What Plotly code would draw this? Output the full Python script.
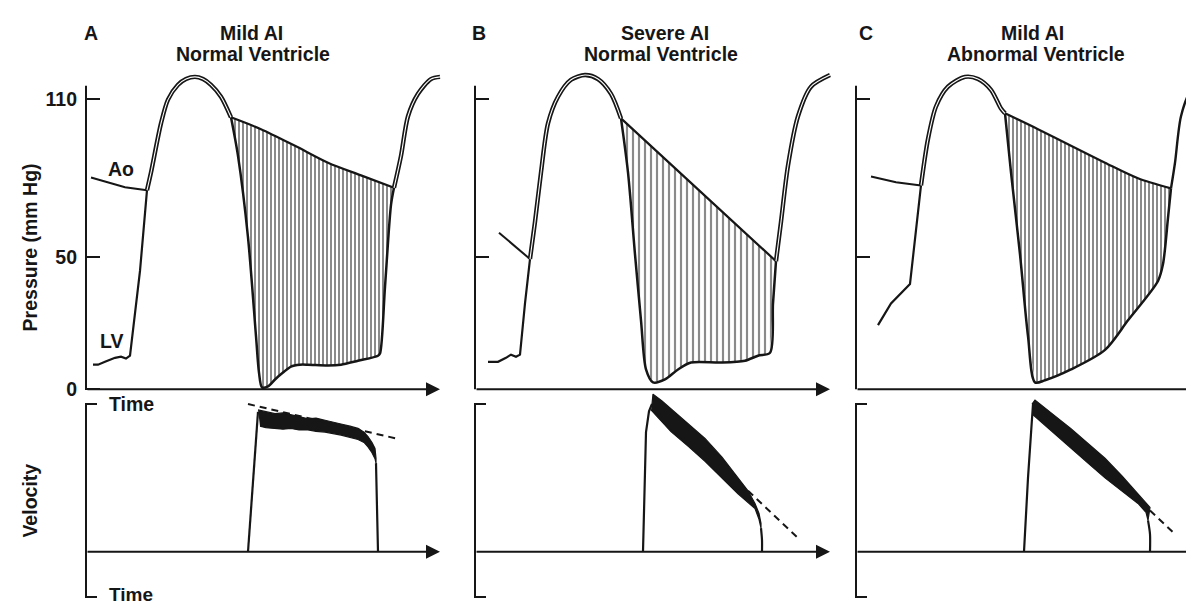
import plotly.graph_objects as go

W, H = 1194, 605
INK = "#161616"
FONT = "Liberation Sans, Arial, sans-serif"

# ---------------- data (time units, pressure mm Hg, velocity rel.) ----------------
# Panel A: Mild AI, normal ventricle
A_AO_PRE = [(5, 80.2), (22, 78.4), (39, 76.5), (61, 75.4)]
A_LV_PRE = [(7, 9.3), (12, 9.3), (19, 10.4), (29, 11.9), (35, 12.3), (40, 11.6), (44, 12.7), (54, 44.8), (61, 75.4)]
A_SYS = [(61, 75.4), (65, 82.1), (75, 100.7), (82, 109.7), (92, 115.3), (100, 117.5), (109, 118.3),
         (117, 117.5), (125, 115.3), (135, 110.8), (145, 103.0)]
A_LV_DIA = [(145, 103.0), (152, 88.4), (162, 57.5), (170, 20.1), (173, 6.3), (176, 0.7), (182, 1.1), (189, 3.7),
            (197, 6.3), (205, 8.6), (214, 9.3), (222, 9.3), (242, 9.0), (255, 9.3), (272, 10.8), (292, 12.7),
            (294, 13.5), (299, 38.8), (305, 69.8), (308, 76.3)]
A_AO_DIA = [(145, 103.0), (175, 98.5), (209, 92.2), (242, 85.8), (275, 81.0), (308, 76.3)]
A_POST = [(308, 76.3), (315, 88.4), (322, 103.4), (332, 111.9), (345, 117.5), (354, 118.3)]
V_A_RISE = [(162, 0.0), (172, 0.947)]
V_A_UP = [(172, 0.96), (180, 0.95), (189, 0.935), (197, 0.94), (205, 0.925), (213, 0.915), (222, 0.90),
          (230, 0.905), (239, 0.89), (247, 0.88), (255, 0.865), (264, 0.85), (272, 0.835), (278, 0.81),
          (282, 0.78), (286, 0.74), (289, 0.70), (290, 0.633)]
V_A_LO = [(174, 0.85), (180, 0.84), (189, 0.835), (197, 0.83), (205, 0.835), (213, 0.825), (222, 0.825),
          (230, 0.815), (239, 0.81), (247, 0.80), (255, 0.79), (264, 0.775), (272, 0.76), (278, 0.74),
          (282, 0.71), (286, 0.67), (289, 0.63), (290, 0.60)]
V_A_FALL = [(290, 0.60), (291, 0.30), (292, 0.0)]
V_A_DASH = [(162, 1.0), (310, 0.767)]

# Panel B: Severe AI, normal ventricle
B_AO_PRE = [(24, 59.3), (55, 49.3)]
B_LV_PRE = [(13, 10.4), (23, 10.4), (31, 11.9), (36, 13.1), (41, 12.3), (45, 13.1), (50, 32.5), (55, 49.3)]
B_SYS = [(55, 49.3), (60, 63.4), (66, 82.1), (73, 100.7), (83, 110.8), (96, 117.2), (110, 119.0),
         (123, 117.5), (136, 111.9), (146, 102.6)]
B_LV_DIA = [(146, 102.6), (153, 82.1), (160, 51.1), (166, 26.1), (171, 7.5), (178, 2.6), (190, 3.7),
            (203, 7.5), (216, 10.1), (246, 10.1), (270, 10.8), (283, 12.7), (295, 13.8), (298, 32.5), (301, 48.5)]
B_AO_DIA = [(146, 102.6), (223, 75.7), (301, 48.5)]
B_POST = [(301, 48.5), (306, 63.4), (313, 84.7), (323, 103.4), (336, 114.6), (355, 119.0)]
V_B_RISE = [(168, 0.0), (170, 0.48), (171, 0.81), (174, 0.95), (177, 1.0)]
V_B_UP = [(177, 1.0), (178, 1.067), (187, 1.02), (196, 0.967), (213, 0.87), (230, 0.767), (247, 0.64),
          (263, 0.50), (273, 0.413), (280, 0.327), (284, 0.26), (286, 0.193)]
V_B_LO = [(176, 0.96), (196, 0.813), (213, 0.715), (230, 0.613), (247, 0.50), (263, 0.393), (280, 0.293),
          (284, 0.22), (286, 0.16)]
V_B_FALL = [(286, 0.16), (287, 0.08), (287, 0.0)]
V_B_DASH = [(273, 0.413), (325, 0.08)]

# Panel C: Mild AI, abnormal ventricle
C_AO_PRE = [(15, 80.6), (40, 78.4), (65, 77.2)]
C_LV_PRE = [(22, 24.3), (35, 32.5), (54, 39.9), (59, 57.5), (65, 77.2)]
C_SYS = [(65, 77.2), (72, 94.8), (80, 107.1), (92, 114.6), (109, 118.3), (122, 117.5), (135, 113.4),
         (145, 106.3), (149, 104.5)]
C_LV_DIA = [(149, 104.5), (155, 82.1), (164, 51.1), (172, 20.1), (179, 2.6), (189, 3.4), (215, 7.5),
            (249, 14.9), (272, 26.1), (302, 41.0), (307, 47.4), (312, 64.9), (315, 76.1)]
C_AO_DIA = [(149, 104.5), (182, 98.5), (215, 92.2), (249, 85.8), (282, 79.9), (315, 76.1)]
C_POST = [(315, 76.1), (319, 85.8), (325, 103.4), (335, 113.4), (345, 117.2)]
V_C_RISE = [(168, 0.0), (172, 0.5), (177, 1.0)]
V_C_UP = [(176, 1.0), (179, 1.027), (197, 0.93), (215, 0.833), (232, 0.733), (249, 0.633), (266, 0.513),
          (282, 0.393), (290, 0.33), (294, 0.30)]
V_C_LO = [(177, 0.927), (197, 0.81), (215, 0.70), (232, 0.60), (249, 0.50), (266, 0.413), (282, 0.327),
          (290, 0.267), (292, 0.213)]
V_C_FALL = [(292, 0.213), (294, 0.12), (294, 0.0)]
V_C_DASH = [(294, 0.28), (320, 0.113)]

PRESSURE_TICKS = [0, 50, 110]
PRESSURE_TICK_TEXT = ["0", "50", "110"]
VEL_TICKS = [-0.307, 1.0]
PANEL_LETTERS = ["A", "B", "C"]
TITLES = [("Mild AI", "Normal Ventricle"), ("Severe AI", "Normal Ventricle"), ("Mild AI", "Abnormal Ventricle")]

# ---------------- layout geometry (pixels) ----------------
P_RANGE = [-0.75, 122.76]     # top panels
V_RANGE = [-0.3533, 1.08]     # bottom panels
top_dom = [1 - 389 / H, 1 - 58 / H]
bot_dom = [0, 1 - 390 / H]

panels = [
    dict(axis_px=78, tmax=362, arrow=354, hatch=4, solid=0.5, post_double=True,
         ao_pre=A_AO_PRE, lv_pre=A_LV_PRE, sys=A_SYS, lv_dia=A_LV_DIA, ao_dia=A_AO_DIA, post=A_POST,
         rise=V_A_RISE, up=V_A_UP, lo=V_A_LO, fall=V_A_FALL, dash=V_A_DASH),
    dict(axis_px=467, tmax=362, arrow=355, hatch=6, solid=0.36, post_double=True,
         ao_pre=B_AO_PRE, lv_pre=B_LV_PRE, sys=B_SYS, lv_dia=B_LV_DIA, ao_dia=B_AO_DIA, post=B_POST,
         rise=V_B_RISE, up=V_B_UP, lo=V_B_LO, fall=V_B_FALL, dash=V_B_DASH),
    dict(axis_px=848, tmax=346, arrow=346, hatch=4, solid=0.5, post_double=False,
         ao_pre=C_AO_PRE, lv_pre=C_LV_PRE, sys=C_SYS, lv_dia=C_LV_DIA, ao_dia=C_AO_DIA, post=C_POST,
         rise=V_C_RISE, up=V_C_UP, lo=V_C_LO, fall=V_C_FALL, dash=V_C_DASH),
]

fig = go.Figure()


def xy(pts):
    return [p[0] for p in pts], [p[1] for p in pts]


def add_line(pts, xa, ya, width=2.2, color=INK, spline=False, dash=None):
    x, y = xy(pts)
    ln = dict(color=color, width=width, dash=dash)
    if spline:
        ln.update(shape="spline", smoothing=0.8)
    fig.add_trace(go.Scatter(x=x, y=y, mode="lines", line=ln, xaxis=xa, yaxis=ya,
                             showlegend=False, hoverinfo="skip"))


annotations = []
shapes = []
layout_axes = {}

for i, p in enumerate(panels):
    kt, kb = 2 * i + 1, 2 * i + 2
    xt, yt = ("x" if kt == 1 else f"x{kt}"), ("y" if kt == 1 else f"y{kt}")
    xb, yb = f"x{kb}", f"y{kb}"
    x0px = p["axis_px"] - 1
    x1px = x0px + (p["tmax"] + 1)
    xdom = [x0px / W, min(x1px / W, 1.0)]

    for k, ydom, yr in ((kt, top_dom, P_RANGE), (kb, bot_dom, V_RANGE)):
        xname = "xaxis" if k == 1 else f"xaxis{k}"
        yname = "yaxis" if k == 1 else f"yaxis{k}"
        layout_axes[xname] = dict(domain=xdom, range=[-1, p["tmax"]], visible=False,
                                  anchor="y" if k == 1 else f"y{k}")
        ya = dict(domain=ydom, range=yr, anchor="x" if k == 1 else f"x{k}",
                  showgrid=False, zeroline=False, showline=False,
                  ticks="inside", tickwidth=2, tickcolor=INK)
        if k == kt:
            ya.update(tickvals=PRESSURE_TICKS if i == 0 else PRESSURE_TICKS[1:],
                      ticktext=PRESSURE_TICK_TEXT if i == 0 else PRESSURE_TICK_TEXT[1:],
                      showticklabels=(i == 0), ticklen=15, ticklabelstandoff=7,
                      tickfont=dict(family=FONT, size=19.5, color=INK, weight="bold"))
        else:
            ya.update(tickvals=VEL_TICKS, showticklabels=False, ticklen=12)
        layout_axes[yname] = ya

    # --- pressure panel ---
    hatch_poly = p["ao_dia"] + p["lv_dia"][::-1]
    hx, hy = xy(hatch_poly)
    fig.add_trace(go.Scatter(x=hx, y=hy, mode="lines", fill="toself", fillcolor="white",
                             fillpattern=dict(shape="|", size=p["hatch"], solidity=p["solid"],
                                              fgcolor="#161616", bgcolor="white"),
                             line=dict(width=0, color="rgba(0,0,0,0)"), xaxis=xt, yaxis=yt,
                             showlegend=False, hoverinfo="skip"))
    add_line(p["ao_pre"], xt, yt, width=2.0)
    add_line(p["lv_pre"], xt, yt, width=2.2)
    add_line(p["lv_dia"], xt, yt, width=2.5, spline=True)
    add_line(p["ao_dia"], xt, yt, width=2.2, spline=True)
    add_line(p["sys"], xt, yt, width=4.4, spline=True)
    add_line(p["sys"], xt, yt, width=1.1, color="white", spline=True)
    if p["post_double"]:
        add_line(p["post"], xt, yt, width=4.4, spline=True)
        add_line(p["post"], xt, yt, width=1.1, color="white", spline=True)
    else:
        add_line(p["post"], xt, yt, width=2.4, spline=True)

    # axes (pressure)
    shapes.append(dict(type="line", xref=xt, yref=yt, x0=0, x1=0, y0=0, y1=115,
                       line=dict(color=INK, width=2)))
    annotations.append(dict(xref=xt, yref=yt, axref=xt, ayref=yt, x=p["arrow"], y=0, ax=0, ay=0,
                            text="", showarrow=True, arrowhead=2, arrowsize=1.4, arrowwidth=2,
                            arrowcolor=INK, standoff=0))

    # --- velocity panel ---
    band = p["up"] + p["lo"][::-1]
    bx, by = xy(band)
    fig.add_trace(go.Scatter(x=bx, y=by, mode="lines", fill="toself", fillcolor=INK,
                             line=dict(width=1.2, color=INK), xaxis=xb, yaxis=yb,
                             showlegend=False, hoverinfo="skip"))
    add_line(p["rise"], xb, yb, width=2.2)
    add_line(p["fall"], xb, yb, width=2.2, spline=True)
    add_line(p["dash"], xb, yb, width=2.0, dash="7px,5px")

    shapes.append(dict(type="line", xref=xb, yref=yb, x0=0, x1=0, y0=VEL_TICKS[0], y1=VEL_TICKS[1],
                       line=dict(color=INK, width=2)))
    annotations.append(dict(xref=xb, yref=yb, axref=xb, ayref=yb, x=p["arrow"], y=0, ax=0, ay=0,
                            text="", showarrow=True, arrowhead=2, arrowsize=1.4, arrowwidth=2,
                            arrowcolor=INK, standoff=0))


def label(text, px, py, size=19.5, angle=0):
    annotations.append(dict(text=text, x=px / W, y=1 - py / H, xref="paper", yref="paper",
                            showarrow=False, xanchor="center", yanchor="middle", textangle=angle,
                            font=dict(family=FONT, size=size, color=INK, weight="bold")))


for letter, (lx, ly) in zip(PANEL_LETTERS, [(83, 25), (471, 25), (858, 25)]):
    label(letter, lx, ly)
title_pos = [((243, 25), (245, 47)), ((657, 25), (653, 47)), ((1024, 25), (1028, 47))]
for (l1, l2), (p1, p2) in zip(TITLES, title_pos):
    label(l1, *p1)
    label(l2, *p2)
label("Ao", 113, 163)
label("LV", 103, 338)
label("Time", 123, 402)
label("Time", 123, 595, size=19)
label("Pressure (mm Hg)", 22, 243, angle=-90)
label("Velocity", 22, 500, angle=-90)

fig.update_layout(width=W, height=H, margin=dict(l=0, r=0, t=0, b=0),
                  paper_bgcolor="white", plot_bgcolor="white", showlegend=False,
                  annotations=annotations, shapes=shapes, **layout_axes)

fig.write_html("out.html")
